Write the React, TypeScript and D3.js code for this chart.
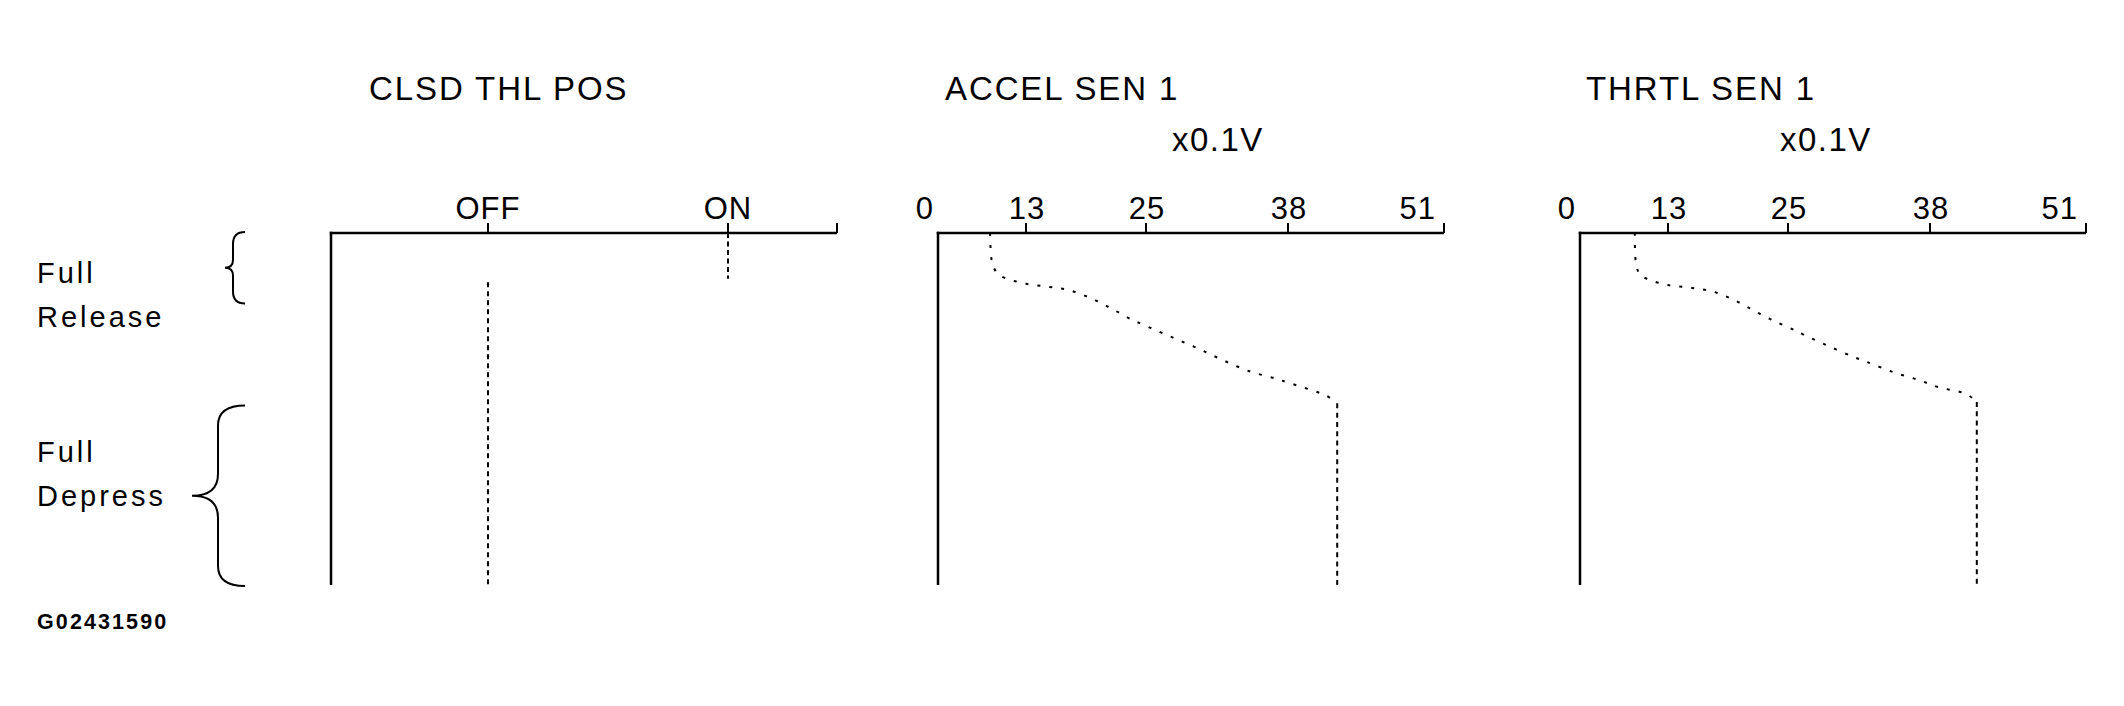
import * as d3 from 'd3';

const panelTitles = ['CLSD THL POS', 'ACCEL SEN 1', 'THRTL SEN 1'];
const switchStates = ['OFF', 'ON'];
const voltTicks = [0, 13, 25, 38, 51];
const unitLabel = 'x0.1V';
const releaseLabel = ['Full', 'Release'];
const depressLabel = ['Full', 'Depress'];
const figureId = 'G02431590';

// pedal travel in % (0 = full release, 100 = full depress)
const releaseRange = [0, 20];
const depressRange = [49, 100];

// CLSD THL POS switch state over pedal travel
const onSpan = [0, 13];
const offSpan = [14, 100];

// sensor voltage (x0.1V) vs pedal travel
const accelVolts = [7.7, 8.0, 8.7, 9.8, 13.0, 15.3, 17.4, 19.7, 21.7, 23.5, 25.3, 27.6, 29.9, 32.1, 34.4, 36.8, 38.0, 40.2, 41.2, 42.1];
const accelPedal = [0, 8.5, 11.3, 12.7, 14.4, 15.3, 16.3, 18.8, 21.7, 24.5, 26.8, 29.9, 33.0, 36.2, 39.2, 41.3, 42.5, 44.9, 46.2, 48.4];
const thrtlVolts = [8.1, 8.3, 8.9, 10.0, 13.0, 15.4, 17.7, 19.8, 21.7, 23.6, 25.4, 26.5, 28.7, 30.9, 32.2, 34.6, 37.0, 38.7, 41.0, 41.9];
const thrtlPedal = [0, 9.0, 11.9, 13.1, 14.8, 15.6, 16.8, 19.3, 22.2, 25.0, 27.3, 29.0, 32.1, 35.1, 36.6, 39.5, 41.8, 43.8, 45.7, 48.0];

const W = 2124;
const H = 706;
const axisY = 233;
const axisBottom = 585;
const panelLeft = [331, 938, 1580];
const panelWidth = 506;
const voltOffsets = [0, 88, 208, 350, 506];
const titleX = [369, 945, 1586];
const unitX = [0, 1172, 1780];
const font = "'Liberation Sans', Arial, Helvetica, sans-serif";

const pedal = d3.scaleLinear().domain([0, 100]).range([axisY, axisBottom]);

function voltScale(left: number) {
  return d3.scaleLinear().domain(voltTicks).range(voltOffsets.map((d) => left + d));
}

function bracePath(xr: number, xs: number, xt: number, y0: number, y1: number, r: number, r2: number) {
  const ym = (y0 + y1) / 2;
  const p = d3.path();
  p.moveTo(xr, y0);
  p.quadraticCurveTo(xs, y0, xs, y0 + r);
  p.lineTo(xs, ym - r2);
  p.quadraticCurveTo(xs, ym, xt, ym);
  p.quadraticCurveTo(xs, ym, xs, ym + r2);
  p.lineTo(xs, y1 - r);
  p.quadraticCurveTo(xs, y1, xr, y1);
  return p.toString();
}

function Frame({ left }: { left: number }) {
  return (
    <g stroke="#000" strokeWidth={2.5} fill="none">
      <line x1={left - 1.25} x2={left + panelWidth} y1={axisY} y2={axisY} />
      <line x1={left} x2={left} y1={axisY - 1.25} y2={axisBottom} />
      <line x1={left + panelWidth} x2={left + panelWidth} y1={axisY} y2={axisY - 10} strokeWidth={2} />
    </g>
  );
}

function SwitchPanel({ left }: { left: number }) {
  const x = d3.scaleOrdinal<string, number>().domain(switchStates).range([left + 157, left + 397]);
  return (
    <g>
      <Frame left={left} />
      {switchStates.map((s) => (
        <g key={s}>
          <line x1={x(s)} x2={x(s)} y1={axisY} y2={axisY - 10} stroke="#000" strokeWidth={2} />
          <text x={x(s)} y={219} textAnchor="middle" fontSize={31} letterSpacing={1}>{s}</text>
        </g>
      ))}
      <line x1={x('ON')} x2={x('ON')} y1={pedal(onSpan[0])} y2={pedal(onSpan[1])}
        stroke="#000" strokeWidth={2} strokeDasharray="5 3.5" />
      <line x1={x('OFF')} x2={x('OFF')} y1={pedal(offSpan[0])} y2={pedal(offSpan[1])}
        stroke="#000" strokeWidth={2} strokeDasharray="5 4" />
    </g>
  );
}

function VoltPanel({ left, volts, travel }: { left: number; volts: number[]; travel: number[] }) {
  const x = voltScale(left);
  const pts: [number, number][] = volts.map((v, i) => [v, travel[i]]);
  const line = d3.line<[number, number]>()
    .x((d) => x(d[0]))
    .y((d) => pedal(d[1]))
    .curve(d3.curveCatmullRom.alpha(0.5));
  const last = pts[pts.length - 1];
  return (
    <g>
      <Frame left={left} />
      {voltTicks.map((t, i) => {
        const first = i === 0;
        const end = i === voltTicks.length - 1;
        return (
          <g key={t}>
            {!first && <line x1={x(t)} x2={x(t)} y1={axisY} y2={axisY - 10} stroke="#000" strokeWidth={2} />}
            <text
              x={first ? x(t) - 4 : end ? x(t) - 8 : x(t) + 1}
              y={219}
              textAnchor={first || end ? 'end' : 'middle'}
              fontSize={31}
              letterSpacing={1}
            >{t}</text>
          </g>
        );
      })}
      <path d={line(pts) ?? ''} fill="none" stroke="#000" strokeWidth={2} strokeDasharray="3 9" />
      <line x1={x(last[0])} x2={x(last[0])} y1={pedal(last[1])} y2={pedal(100)}
        stroke="#000" strokeWidth={2} strokeDasharray="5 4.3" />
    </g>
  );
}

export default function App() {
  return (
    <svg width={W} height={H} viewBox={`0 0 ${W} ${H}`}
      style={{ position: 'absolute', left: 0, top: 0, background: '#fff' }}
      fontFamily={font} fill="#000">
      <rect width={W} height={H} fill="#fff" />
      {panelTitles.map((t, i) => (
        <text key={t} x={titleX[i]} y={100} fontSize={33} letterSpacing={1.9}>{t}</text>
      ))}
      {unitX.slice(1).map((ux) => (
        <text key={ux} x={ux} y={151} fontSize={33} letterSpacing={1.5}>{unitLabel}</text>
      ))}
      <SwitchPanel left={panelLeft[0]} />
      <VoltPanel left={panelLeft[1]} volts={accelVolts} travel={accelPedal} />
      <VoltPanel left={panelLeft[2]} volts={thrtlVolts} travel={thrtlPedal} />

      {releaseLabel.map((s, i) => (
        <text key={'r' + i} x={37} y={283 + i * 44} fontSize={29} letterSpacing={3}>{s}</text>
      ))}
      {depressLabel.map((s, i) => (
        <text key={'d' + i} x={37} y={462 + i * 44} fontSize={29} letterSpacing={3}>{s}</text>
      ))}
      <path d={bracePath(245, 233, 225, pedal(releaseRange[0]) - 1, pedal(releaseRange[1]), 12, 8)}
        fill="none" stroke="#000" strokeWidth={2} />
      <path d={bracePath(245, 218, 192, pedal(depressRange[0]), pedal(depressRange[1]) + 1, 20, 22)}
        fill="none" stroke="#000" strokeWidth={2} />

      <text x={37} y={629} fontSize={21.5} fontWeight="bold" letterSpacing={2.1}>{figureId}</text>
    </svg>
  );
}
